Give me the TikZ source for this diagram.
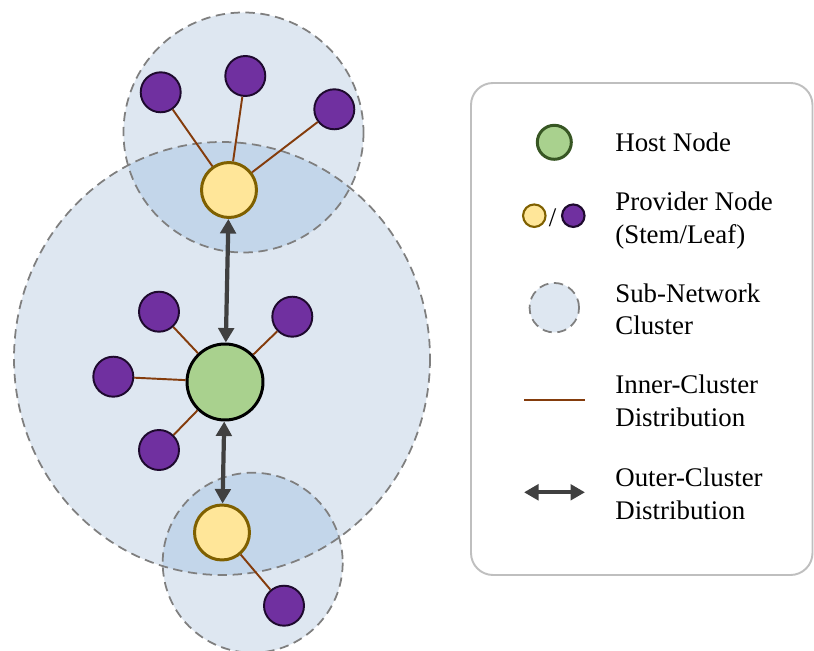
\documentclass[tikz,border=0pt]{standalone}
\usepackage{fontspec}
\setmainfont{Liberation Serif}
\usetikzlibrary{arrows.meta}

\definecolor{clusterfill}{HTML}{DEE7F1}
\definecolor{overlapfill}{HTML}{C3D6EA}
\definecolor{clusterline}{HTML}{7F7F7F}
\definecolor{hostfill}{HTML}{A9D18E}
\definecolor{hostlegline}{HTML}{375623}
\definecolor{stemfill}{HTML}{FFE699}
\definecolor{stemline}{HTML}{7F6000}
\definecolor{leaffill}{HTML}{7030A0}
\definecolor{leafline}{HTML}{1E0A2E}
\definecolor{innerline}{HTML}{843C0C}
\definecolor{outerline}{HTML}{404040}
\definecolor{legendline}{HTML}{BFBFBF}

\tikzset{
  clusterborder/.style={draw=clusterline, line width=1pt, dash pattern=on 5.3pt off 3.2pt},
  hostnode/.style={circle, inner sep=0pt, minimum size=1.52cm, fill=hostfill, draw=black, line width=1.7pt},
  stemnode/.style={circle, inner sep=0pt, minimum size=1.1cm, fill=stemfill, draw=stemline, line width=1.7pt},
  leafnode/.style={circle, inner sep=0pt, minimum size=0.8cm, fill=leaffill, draw=leafline, line width=1.1pt},
  innerlink/.style={draw=innerline, line width=1.1pt},
  outerlink/.style={draw=outerline, line width=2.4pt,
    arrows={Triangle[length=0.29cm,width=0.31cm]-Triangle[length=0.29cm,width=0.31cm]}},
  % base anchor of a two-line label sits on its second line
  legendtext/.style={anchor=base west, align=left, inner sep=0pt,
    font=\fontsize{15.3}{18.7}\selectfont},
}

\begin{document}
\begin{tikzpicture}[x=0.02cm, y=-0.02cm]
\useasboundingbox (0,0) rectangle (814,651);

% ---- sub-network clusters ----
\coordinate (cMain) at (222,358.5);
\coordinate (cTop) at (243.5,132.5);
\coordinate (cBot) at (252.7,562.7);

\fill[clusterfill] (cMain) ellipse [x radius=208, y radius=216.5];
\fill[clusterfill] (cTop) circle [radius=120];
\fill[clusterfill] (cBot) circle [radius=90];

% shared areas between the main cluster and the two small ones
\begin{scope}
  \clip (cMain) ellipse [x radius=208, y radius=216.5];
  \fill[overlapfill] (cTop) circle [radius=120];
  \fill[overlapfill] (cBot) circle [radius=90];
\end{scope}

\draw[clusterborder] (cMain) ellipse [x radius=208, y radius=216.5];
\draw[clusterborder] (cTop) circle [radius=120];
\draw[clusterborder] (cBot) circle [radius=90];

% ---- nodes ----
\node[stemnode] (stemT) at (229,190) {};
\node[hostnode] (host) at (225,382) {};
\node[stemnode] (stemB) at (222,532.5) {};

\node[leafnode] (lt1) at (160.7,92.3) {};
\node[leafnode] (lt2) at (245.3,76) {};
\node[leafnode] (lt3) at (334.3,109.3) {};

\node[leafnode] (lm1) at (159,311.7) {};
\node[leafnode] (lm2) at (292.3,316.7) {};
\node[leafnode] (lm3) at (113.3,376.7) {};
\node[leafnode] (lm4) at (159,450) {};

\node[leafnode] (lb1) at (284,605.7) {};

% ---- inner-cluster links ----
\draw[innerlink] (stemT) -- (lt1);
\draw[innerlink] (stemT) -- (lt2);
\draw[innerlink] (stemT) -- (lt3);
\draw[innerlink] (host) -- (lm1);
\draw[innerlink] (host) -- (lm2);
\draw[innerlink] (host) -- (lm3);
\draw[innerlink] (host) -- (lm4);
\draw[innerlink] (stemB) -- (lb1);

% ---- outer-cluster links ----
\draw[outerlink] (stemT) -- (host);
\draw[outerlink] (host) -- (stemB);

% ---- legend ----
\draw[legendline, line width=1.1pt, rounded corners=0.44cm] (471,83) rectangle (812.5,575);

\node[circle, inner sep=0pt, minimum size=0.68cm, fill=hostfill, draw=hostlegline, line width=1.7pt]
  (legHost) at (554.3,142.3) {};
\node[legendtext] (txtHost) at (615,151.7) {Host Node};

\node[circle, inner sep=0pt, minimum size=0.45cm, fill=stemfill, draw=stemline, line width=1.2pt]
  (legStem) at (534.3,215.7) {};
\node[inner sep=0pt, font=\fontsize{15.3}{18.7}\selectfont] (legSlash) at (552.5,218) {/};
\node[circle, inner sep=0pt, minimum size=0.45cm, fill=leaffill, draw=leafline, line width=1.2pt]
  (legLeaf) at (573.3,215.7) {};
\node[legendtext] (txtProvider) at (615,243.3) {Provider Node\\(Stem/Leaf)};

\node[circle, inner sep=0pt, minimum size=0.99cm, fill=clusterfill, clusterborder]
  (legCluster) at (554.3,307.7) {};
\node[legendtext] (txtCluster) at (615,335) {Sub-Network\\Cluster};

\coordinate (legInA) at (524,400);
\coordinate (legInB) at (585,400);
\draw[innerlink] (legInA) -- (legInB);
\node[legendtext] (txtInner) at (615,426.7) {Inner-Cluster\\Distribution};

\coordinate (legOutA) at (524,492.3);
\coordinate (legOutB) at (585,492.3);
\draw[outerlink] (legOutA) -- (legOutB);
\node[legendtext] (txtOuter) at (615,519.5) {Outer-Cluster\\Distribution};
\end{tikzpicture}
\end{document}
